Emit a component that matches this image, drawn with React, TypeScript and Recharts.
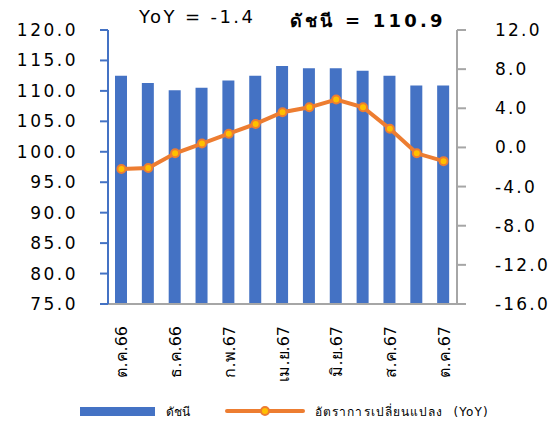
import { ComposedChart, Bar, Line, XAxis, YAxis, Legend } from 'recharts';

// เดือน ต.ค.66 - ต.ค.67
const months = [
  'ต.ค.66', 'พ.ย.66', 'ธ.ค.66', 'ม.ค.67', 'ก.พ.67', 'มี.ค.67', 'เม.ย.67',
  'พ.ค.67', 'มิ.ย.67', 'ก.ค.67', 'ส.ค.67', 'ก.ย.67', 'ต.ค.67',
];
const indexValues = [112.5, 111.3, 110.1, 110.5, 111.7, 112.5, 114.1, 113.7, 113.7, 113.3, 112.5, 110.9, 110.9];
const yoyValues = [-2.2, -2.1, -0.6, 0.4, 1.4, 2.4, 3.6, 4.1, 4.9, 4.1, 1.9, -0.6, -1.4];
const leftTicks = [75, 80, 85, 90, 95, 100, 105, 110, 115, 120];
const rightTicks = [-16, -12, -8, -4, 0, 4, 8, 12];

const data = months.map((m, i) => ({ month: m, index: indexValues[i], yoy: yoyValues[i] }));

const FONT = '"DejaVu Sans", "Noto Sans", sans-serif';
const BLUE = '#4472C4';
const ORANGE = '#ED7D31';
const GREY = '#A6A6A6';

// rotated month label
const MonthTick = (props: any) => {
  const { x, y, payload } = props;
  return (
    <text
      x={0}
      y={0}
      transform={`translate(${x + 6},${y + 14}) rotate(-90)`}
      textAnchor="end"
      fontSize={16}
      fontFamily={FONT}
      fill="#000"
    >
      {payload.value}
    </text>
  );
};

const LegendBox = (props: any) => {
  const items = props.payload || [];
  return (
    <div style={{ display: 'flex', alignItems: 'center', height: 30, paddingLeft: 80, fontFamily: FONT, fontSize: 12 }}>
      {items.map((it: any) =>
        it.type === 'rect' ? (
          <div key={it.value} style={{ display: 'flex', alignItems: 'center', marginRight: 35 }}>
            <div style={{ width: 75, height: 9, background: it.color, marginRight: 11 }} />
            <span>{it.value}</span>
          </div>
        ) : (
          <div key={it.value} style={{ display: 'flex', alignItems: 'center' }}>
            <svg width={80} height={12} style={{ marginRight: 10 }}>
              <line x1={2} y1={6} x2={78} y2={6} stroke={ORANGE} strokeWidth={4} strokeLinecap="round" />
              <circle cx={40} cy={6} r={4} fill="#FFC000" stroke={ORANGE} strokeWidth={2} />
            </svg>
            <span style={{ letterSpacing: 1.1, whiteSpace: 'pre' }}>{it.value}</span>
          </div>
        )
      )}
    </div>
  );
};

const titleStyle: any = {
  position: 'absolute',
  top: 6,
  fontFamily: FONT,
  fontSize: 18,
  whiteSpace: 'pre',
  color: '#000',
};

export default function App() {
  return (
    <div style={{ position: 'absolute', left: 0, top: 0, width: 552, height: 426, background: '#fff' }}>
      <div style={{ ...titleStyle, left: 139, letterSpacing: 2.4 }}>YoY = -1.4</div>
      <div style={{ ...titleStyle, left: 290, letterSpacing: 3.2, fontWeight: 'bold' }}>ดัชนี = 110.9</div>
      <ComposedChart width={552} height={426} data={data} margin={{ top: 30, right: 0, bottom: 0, left: 0 }} barCategoryGap="0%">
        <XAxis
          dataKey="month"
          interval={1}
          height={92}
          tickLine={false}
          axisLine={{ stroke: GREY, strokeWidth: 2 }}
          tick={<MonthTick />}
        />
        <YAxis
          yAxisId="left"
          orientation="left"
          width={108}
          domain={[75, 120]}
          ticks={leftTicks}
          allowDataOverflow
          tickFormatter={(v: number) => v.toFixed(1)}
          axisLine={{ stroke: BLUE, strokeWidth: 2 }}
          tickLine={{ stroke: BLUE, strokeWidth: 2 }}
          tickSize={8}
          tickMargin={22}
          tick={{ fontSize: 17, fill: '#000', fontFamily: FONT, letterSpacing: 2.5 }}
        />
        <YAxis
          yAxisId="right"
          orientation="right"
          width={95}
          domain={[-16, 12]}
          ticks={rightTicks}
          tickFormatter={(v: number) => v.toFixed(1)}
          axisLine={{ stroke: GREY, strokeWidth: 2 }}
          tickLine={{ stroke: GREY, strokeWidth: 2 }}
          tickSize={9}
          tickMargin={29}
          tick={{ fontSize: 17, fill: '#000', fontFamily: FONT, letterSpacing: 2.2, textAnchor: 'start' }}
        />
        <Bar yAxisId="left" dataKey="index" name="ดัชนี" fill={BLUE} barSize={12} legendType="rect" isAnimationActive={false} />
        <Line
          yAxisId="right"
          dataKey="yoy"
          name="อัตราการเปลี่ยนแปลง  (YoY)"
          stroke={ORANGE}
          strokeWidth={4}
          dot={{ r: 4, fill: '#FFC000', stroke: ORANGE, strokeWidth: 2 }}
          legendType="line"
          isAnimationActive={false}
        />
        <Legend verticalAlign="bottom" height={30} content={<LegendBox />} />
      </ComposedChart>
    </div>
  );
}
